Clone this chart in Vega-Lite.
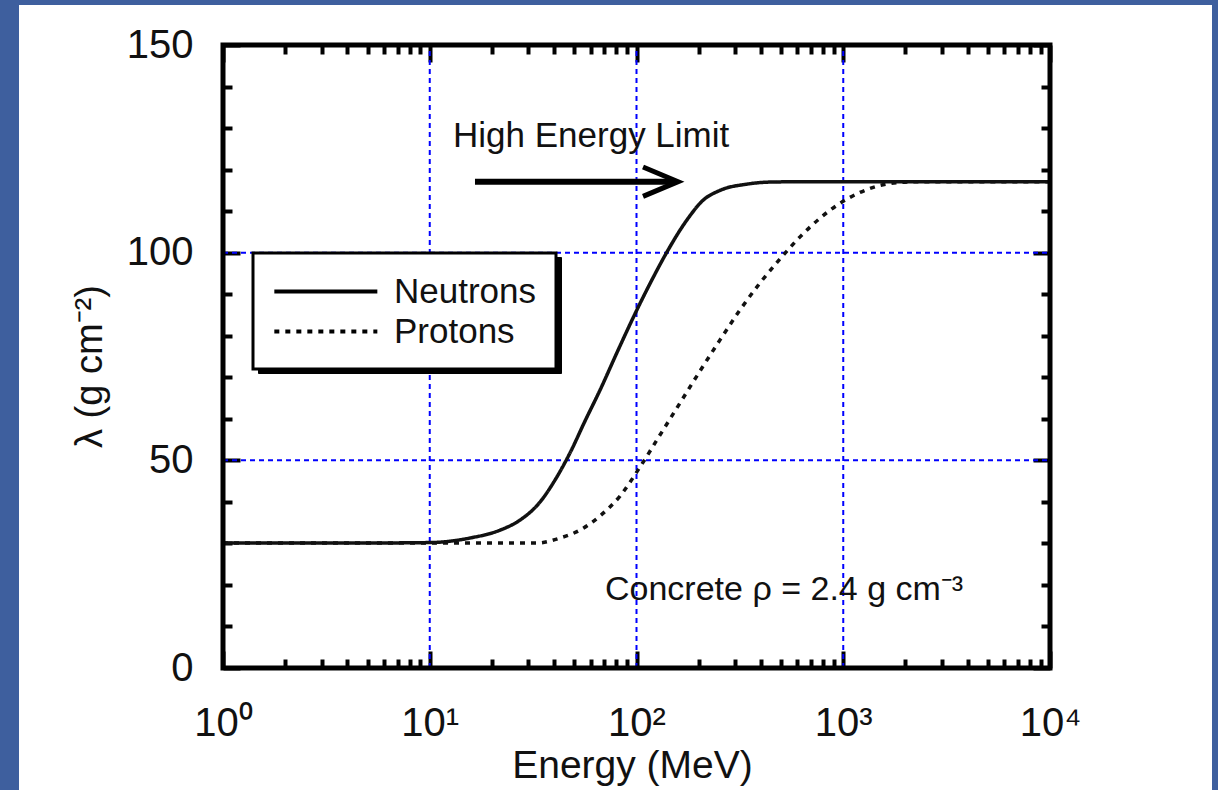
{
  "$schema": "https://vega.github.io/schema/vega-lite/v6.json",
  "width": 1193,
  "height": 785,
  "autosize": {"type": "none"},
  "padding": {"left": 19, "top": 5, "right": 6, "bottom": 0},
  "background": "#3E5F9E",
  "config": {
    "view": {"fill": "white", "stroke": null},
    "font": "Liberation Sans",
    "axis": {"domain": false, "grid": false, "tickColor": "black", "tickWidth": 4, "labelColor": "#111", "titleColor": "#111", "titleFontWeight": "normal", "labelFlush": false, "labelOverlap": false, "labelBound": false}
  },
  "resolve": {"axis": {"x": "independent", "y": "independent"}},
  "layer": [
    {
      "data": {"values": [{"g": 10}, {"g": 100}, {"g": 1000}]},
      "mark": {"type": "rule", "color": "#0000ff", "strokeDash": [5, 4], "strokeWidth": 2},
      "encoding": {
        "x": {"field": "g", "type": "quantitative", "scale": {"type": "log", "domain": [0.10311, 60751], "nice": false},
          "axis": {"orient": "top", "offset": -40, "title": null, "labels": false,
            "values": [1,2,3,4,5,6,7,8,9,10,20,30,40,50,60,70,80,90,100,200,300,400,500,600,700,800,900,1000,2000,3000,4000,5000,6000,7000,8000,9000,10000],
            "tickSize": {"condition": {"test": "datum.value==1||datum.value==10||datum.value==100||datum.value==1000||datum.value==10000", "value": -17}, "value": -9}}},
        "y": {"datum": 0, "scale": {"domain": [-29.374, 159.631], "nice": false, "zero": false}, "axis": null},
        "y2": {"datum": 150}
      }
    },
    {
      "data": {"values": [{"h": 50}, {"h": 100}]},
      "mark": {"type": "rule", "color": "#0000ff", "strokeDash": [5, 4], "strokeWidth": 2},
      "encoding": {
        "y": {"field": "h", "type": "quantitative", "scale": {"domain": [-29.374, 159.631], "nice": false, "zero": false},
          "axis": {"orient": "right", "offset": -162, "title": null, "labels": false,
            "values": [0,10,20,30,40,50,60,70,80,90,100,110,120,130,140,150],
            "tickSize": {"condition": {"test": "datum.value % 50 == 0", "value": -17}, "value": -9}}},
        "x": {"datum": 1, "scale": {"type": "log", "domain": [0.10311, 60751], "nice": false}, "axis": null},
        "x2": {"datum": 10000}
      }
    },
    {
      "data": {"values": [
        {"E": 1, "lambda": 30.1, "particle": "Neutrons"},
        {"E": 5, "lambda": 30.1, "particle": "Neutrons"},
        {"E": 10, "lambda": 30.2, "particle": "Neutrons"},
        {"E": 15.65, "lambda": 31.3, "particle": "Neutrons"},
        {"E": 21.9, "lambda": 33.2, "particle": "Neutrons"},
        {"E": 27.3, "lambda": 35.6, "particle": "Neutrons"},
        {"E": 34.2, "lambda": 40.0, "particle": "Neutrons"},
        {"E": 40.4, "lambda": 45.3, "particle": "Neutrons"},
        {"E": 47.7, "lambda": 51.8, "particle": "Neutrons"},
        {"E": 56.4, "lambda": 59.5, "particle": "Neutrons"},
        {"E": 66.6, "lambda": 66.9, "particle": "Neutrons"},
        {"E": 81.4, "lambda": 76.5, "particle": "Neutrons"},
        {"E": 99.5, "lambda": 85.8, "particle": "Neutrons"},
        {"E": 118.9, "lambda": 93.5, "particle": "Neutrons"},
        {"E": 142, "lambda": 100.6, "particle": "Neutrons"},
        {"E": 175.5, "lambda": 107.9, "particle": "Neutrons"},
        {"E": 209.7, "lambda": 112.6, "particle": "Neutrons"},
        {"E": 253.5, "lambda": 115.0, "particle": "Neutrons"},
        {"E": 342.3, "lambda": 116.5, "particle": "Neutrons"},
        {"E": 442.4, "lambda": 117.0, "particle": "Neutrons"},
        {"E": 700, "lambda": 117.1, "particle": "Neutrons"},
        {"E": 10000, "lambda": 117.1, "particle": "Neutrons"},
        {"E": 1, "lambda": 30.1, "particle": "Protons"},
        {"E": 10, "lambda": 30.1, "particle": "Protons"},
        {"E": 33, "lambda": 30.1, "particle": "Protons"},
        {"E": 42.7, "lambda": 31.3, "particle": "Protons"},
        {"E": 53.3, "lambda": 33.2, "particle": "Protons"},
        {"E": 66.6, "lambda": 36.6, "particle": "Protons"},
        {"E": 83.2, "lambda": 41.4, "particle": "Protons"},
        {"E": 104, "lambda": 48.4, "particle": "Protons"},
        {"E": 129.9, "lambda": 56.1, "particle": "Protons"},
        {"E": 162.3, "lambda": 63.8, "particle": "Protons"},
        {"E": 202.8, "lambda": 71.5, "particle": "Protons"},
        {"E": 253.5, "lambda": 79.0, "particle": "Protons"},
        {"E": 316.7, "lambda": 86.2, "particle": "Protons"},
        {"E": 395.7, "lambda": 92.7, "particle": "Protons"},
        {"E": 494.6, "lambda": 98.5, "particle": "Protons"},
        {"E": 617.9, "lambda": 103.8, "particle": "Protons"},
        {"E": 771.9, "lambda": 108.3, "particle": "Protons"},
        {"E": 964.5, "lambda": 111.9, "particle": "Protons"},
        {"E": 1205, "lambda": 114.5, "particle": "Protons"},
        {"E": 1506, "lambda": 116.2, "particle": "Protons"},
        {"E": 1882, "lambda": 116.9, "particle": "Protons"},
        {"E": 2351, "lambda": 117.1, "particle": "Protons"},
        {"E": 10000, "lambda": 117.1, "particle": "Protons"}
      ]},
      "mark": {"type": "line", "interpolate": "monotone", "strokeWidth": 3.5},
      "encoding": {
        "x": {"field": "E", "type": "quantitative", "scale": {"type": "log", "domain": [0.10311, 60751], "nice": false},
          "axis": {"orient": "bottom", "offset": -122, "title": "Energy (MeV)",
            "values": [1,2,3,4,5,6,7,8,9,10,20,30,40,50,60,70,80,90,100,200,300,400,500,600,700,800,900,1000,2000,3000,4000,5000,6000,7000,8000,9000,10000],
            "tickSize": {"condition": {"test": "datum.value==1||datum.value==10||datum.value==100||datum.value==1000||datum.value==10000", "value": -17}, "value": -9},
            "labelExpr": "datum.value==1?'10⁰':datum.value==10?'10¹':datum.value==100?'10²':datum.value==1000?'10³':datum.value==10000?'10⁴':''",
            "labelFontSize": 40, "labelBaseline": "alphabetic", "labelPadding": 84,
            "titleFontSize": 39, "titleX": 613, "titleY": 109, "titleBaseline": "alphabetic", "titleAlign": "center", "titleAnchor": null}},
        "y": {"field": "lambda", "type": "quantitative", "scale": {"domain": [-29.374, 159.631], "nice": false, "zero": false},
          "axis": {"orient": "left", "offset": -204, "title": "λ (g cm⁻²)",
            "values": [0,10,20,30,40,50,60,70,80,90,100,110,120,130,140,150],
            "tickSize": {"condition": {"test": "datum.value % 50 == 0", "value": -17}, "value": -9},
            "labelExpr": "datum.value % 50 == 0 ? datum.label : ''",
            "labelFontSize": 40, "labelPadding": 47,
            "titleFontSize": 38, "titleAngle": 270, "titleX": -122, "titleY": 361, "titleBaseline": "alphabetic", "titleAlign": "center", "titleAnchor": null}},
        "color": {"field": "particle", "type": "nominal",
          "scale": {"range": ["#111111", "#111111"]},
          "legend": {"title": null, "orient": "none", "legendX": 239, "legendY": 252, "direction": "vertical", "zindex": 1,
            "padding": 19, "strokeColor": "black", "fillColor": "black",
            "symbolType": "M-1,0H5", "symbolSize": 1179, "symbolStrokeWidth": 4, "symbolOpacity": 0,
            "labelFontSize": 35, "labelOffset": 83, "labelColor": "black", "labelOpacity": 0, "rowPadding": 2, "labelLimit": 400,
            "encode": {"symbols": {"update": {"opacity": {"value": 0}}}, "labels": {"update": {"opacity": {"value": 0}}}}}},
        "strokeDash": {"field": "particle", "type": "nominal",
          "scale": {"domain": ["Neutrons", "Protons"], "range": [[1, 0], [5, 6]]},
          "legend": {"title": null, "orient": "none", "legendX": 234, "legendY": 248, "direction": "vertical", "zindex": 2,
            "padding": 19, "strokeColor": "black", "fillColor": "white",
            "symbolType": "M-1,0H5", "symbolSize": 1179, "symbolStrokeWidth": 4, "symbolStrokeColor": "black",
            "labelFontSize": 35, "labelOffset": 83, "labelColor": "#111", "rowPadding": 2, "labelLimit": 400,
            "encode": {"legend": {"update": {"strokeWidth": {"value": 3}}}}}}
      }
    },
    {
      "data": {"values": [{}]},
      "mark": {"type": "rule", "color": "black", "strokeWidth": 6},
      "encoding": {
        "x": {"datum": 16.55, "scale": {"type": "log", "domain": [0.10311, 60751], "nice": false}, "axis": null},
        "x2": {"datum": 150},
        "y": {"datum": 117.1, "scale": {"domain": [-29.374, 159.631], "nice": false, "zero": false}, "axis": null}
      }
    },
    {
      "data": {"values": [{}]},
      "mark": {"type": "point", "shape": "M-1,-0.42L0,0L-1,0.42", "size": 4900, "filled": false, "stroke": "black", "strokeWidth": 5, "opacity": 1, "strokeJoin": "miter"},
      "encoding": {
        "x": {"datum": 158.8, "scale": {"type": "log", "domain": [0.10311, 60751], "nice": false}, "axis": null},
        "y": {"datum": 117.1, "scale": {"domain": [-29.374, 159.631], "nice": false, "zero": false}, "axis": null}
      }
    },
    {
      "data": {"values": [{}]},
      "mark": {"type": "text", "align": "left", "baseline": "alphabetic", "fontSize": 35, "color": "#111"},
      "encoding": {
        "x": {"datum": 12.96, "scale": {"type": "log", "domain": [0.10311, 60751], "nice": false}, "axis": null},
        "y": {"datum": 125.4, "scale": {"domain": [-29.374, 159.631], "nice": false, "zero": false}, "axis": null},
        "text": {"value": "High Energy Limit"}
      }
    },
    {
      "data": {"values": [{}]},
      "mark": {"type": "text", "align": "left", "baseline": "alphabetic", "fontSize": 34, "color": "#111"},
      "encoding": {
        "x": {"datum": 70.4, "scale": {"type": "log", "domain": [0.10311, 60751], "nice": false}, "axis": null},
        "y": {"datum": 16.4, "scale": {"domain": [-29.374, 159.631], "nice": false, "zero": false}, "axis": null},
        "text": {"value": "Concrete ρ = 2.4 g cm⁻³"}
      }
    },
    {
      "data": {"values": [{}]},
      "mark": {"type": "rect", "fill": null, "fillOpacity": 0, "stroke": "black", "strokeWidth": 5},
      "encoding": {
        "x": {"datum": 1, "scale": {"type": "log", "domain": [0.10311, 60751], "nice": false}, "axis": null},
        "x2": {"datum": 10000},
        "y": {"datum": 0, "scale": {"domain": [-29.374, 159.631], "nice": false, "zero": false}, "axis": null},
        "y2": {"datum": 150}
      }
    }
  ]
}
